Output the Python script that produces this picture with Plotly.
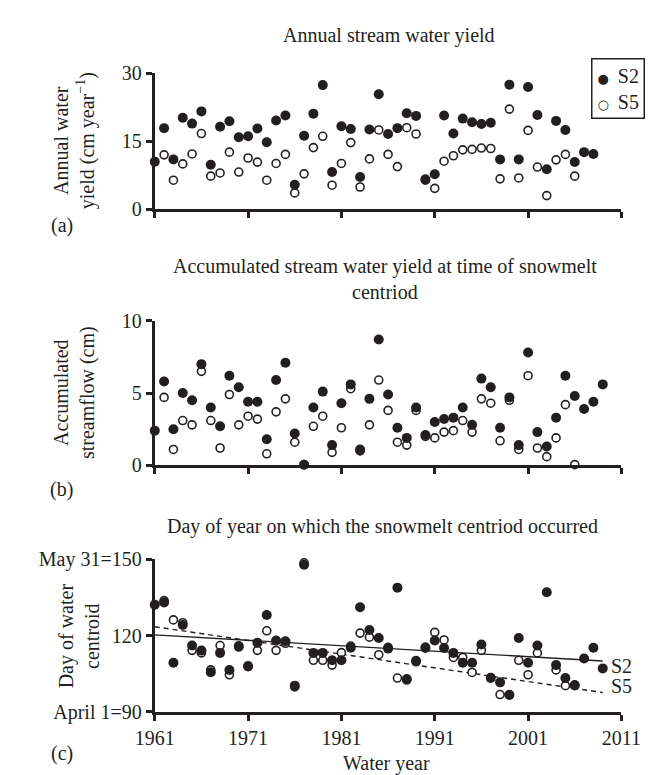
import plotly.graph_objects as go

# ---------------- data ----------------
years_a = list(range(1961, 2009))
s2_yield = [10.5, 17.9, 11.0, 20.2, 18.9, 21.6, 9.8, 18.2, 19.4, 15.9,
            16.1, 17.8, 14.8, 19.6, 20.7, 5.4, 16.2, 21.1, 27.4, 8.2,
            18.3, 17.7, 7.1, 17.6, 25.4, 16.6, 17.9, 21.2, 20.6, 6.6,
            7.7, 20.7, 16.7, 20.0, 19.2, 18.8, 19.1, 11.0, 27.5, 11.0,
            27.0, 20.8, 8.8, 19.5, 17.5, 10.4, 12.6, 12.2]
s5_yield = [None, 12.0, 6.4, 10.0, 12.2, 16.7, 7.3, 8.0, 12.6, 8.2,
            11.3, 10.4, 6.4, 10.1, 12.1, 3.6, 7.8, 13.6, 16.1, 5.3,
            10.1, 14.7, 4.9, 11.1, 17.5, 12.1, 9.4, 18.0, 16.6, 6.4,
            4.6, 10.6, 11.8, 13.1, 13.2, 13.5, 13.4, 6.7, 22.1, 6.9,
            17.4, 9.3, 3.0, 10.9, 12.1, 7.3, None, None]

years_bc = list(range(1961, 2010))
s2_accum = [2.4, 5.8, 2.5, 5.0, 4.5, 7.0, 4.0, 2.7, 6.2, 5.4,
            4.4, 4.4, 1.8, 5.9, 7.1, 2.2, 0.05, 4.0, 5.1, 1.4,
            4.3, 5.6, 1.1, 4.6, 8.7, 4.9, 2.6, 1.9, 4.0, 2.1,
            3.0, 3.2, 3.3, 4.0, 2.8, 6.0, 5.4, 2.6, 4.7, 1.4,
            7.8, 2.3, 1.3, 3.3, 6.2, 4.8, 3.9, 4.4, 5.6]
s5_accum = [None, 4.7, 1.1, 3.1, 2.8, 6.5, 3.1, 1.2, 4.9, 2.8,
            3.4, 3.2, 0.8, 3.7, 4.6, 1.6, 0.05, 2.7, 3.4, 0.9,
            2.6, 5.3, 1.0, 2.8, 5.9, 3.8, 1.6, 1.4, 3.8, 2.0,
            1.9, 2.3, 2.4, 3.1, 2.3, 4.6, 4.3, 1.7, 4.5, 1.1,
            6.2, 1.2, 0.6, 1.9, 4.2, 0.05, None, None, None]

s2_centroid = [132.2, 133.1, 109.3, 124.2, 116.1, 114.1, 105.6, 113.2, 106.5, 115.9,
               108.0, 117.2, 128.1, 118.1, 117.8, 100.3, 147.9, 113.2, 113.2, 110.3,
               110.3, 115.2, 131.2, 122.2, 119.1, 114.9, 138.9, 102.9, 110.1, 115.1,
               118.1, 115.1, 113.2, 109.3, 109.3, 116.5, 103.3, 101.6, 96.6, 119.1,
               109.3, 116.1, 137.1, 108.4, 103.3, 100.4, 111.0, 115.2, 107.1]
s5_centroid = [None, 133.8, 126.2, 125.1, 114.2, 113.2, 106.5, 116.1, 104.6, 115.5,
               107.8, 114.2, 121.9, 114.2, 117.0, 99.8, 148.7, 110.3, 110.3, 108.4,
               113.3, 115.9, 121.0, 119.4, 112.5, 115.4, 103.3, 102.5, 109.7, 115.5,
               121.3, 118.3, 111.4, 111.4, 105.5, 114.2, 103.5, 96.8, 96.8, 110.3,
               104.6, 113.2, None, 106.5, 100.3, 100.6, None, None, None]

trend_years = [1961, 2009]
s2_trend = [120.3, 110.0]
s5_trend = [123.5, 97.6]

x_ticks = [1961, 1971, 1981, 1991, 2001, 2011]
c_tickvals = [90, 120, 150]
c_ticktext = ["April 1=90", "120", "May 31=150"]

# ---------------- style ----------------
W, H = 655, 775
FONT = "Liberation Serif"
INK = "#231f20"
FS = 20

def px(x):
    return x / W

def py(y):
    return (H - y) / H

fig = go.Figure()

def add_pair(xs, s2, s5, xa, ya):
    fig.add_trace(go.Scatter(
        x=xs, y=s5, mode="markers", name="S5", xaxis=xa, yaxis=ya,
        marker=dict(symbol="circle", size=8, color="white",
                    line=dict(color=INK, width=1.6)),
        cliponaxis=False, showlegend=False))
    fig.add_trace(go.Scatter(
        x=xs, y=s2, mode="markers", name="S2", xaxis=xa, yaxis=ya,
        marker=dict(symbol="circle", size=10, color=INK,
                    line=dict(color=INK, width=0)),
        cliponaxis=False, showlegend=False))

add_pair(years_a, s2_yield, s5_yield, "x", "y")
add_pair(years_bc, s2_accum, s5_accum, "x2", "y2")

fig.add_trace(go.Scatter(x=trend_years, y=s2_trend, mode="lines", xaxis="x3", yaxis="y3",
                         line=dict(color=INK, width=1.4), showlegend=False))
fig.add_trace(go.Scatter(x=trend_years, y=s5_trend, mode="lines", xaxis="x3", yaxis="y3",
                         line=dict(color=INK, width=1.4, dash="5px,4px"), showlegend=False))
add_pair(years_bc, s2_centroid, s5_centroid, "x3", "y3")

xdom = [px(135), px(632)]
axis_common = dict(showline=True, linecolor=INK, linewidth=3, ticks="outside",
                   ticklen=6, tickwidth=3, tickcolor=INK, showgrid=False,
                   zeroline=False, tickfont=dict(family=FONT, size=FS, color=INK))

def xaxis(anchor, labels):
    d = dict(axis_common)
    d.update(domain=xdom, range=[1961, 2011], tickvals=x_ticks, anchor=anchor,
             showticklabels=labels, ticktext=[str(t) for t in x_ticks], tickmode="array")
    return d

def yaxis(anchor, dom, rng, tickvals, ticktext):
    d = dict(axis_common)
    d.update(domain=dom, range=rng, tickvals=tickvals, ticktext=ticktext,
             tickmode="array", anchor=anchor)
    return d

fig.update_layout(
    width=W, height=H,
    margin=dict(l=0, r=0, t=0, b=0),
    paper_bgcolor="white", plot_bgcolor="white",
    font=dict(family=FONT, size=FS, color=INK),
    xaxis=xaxis("y", False),
    xaxis2=xaxis("y2", False),
    xaxis3=xaxis("y3", True),
    yaxis=yaxis("x", [py(196), py(56)], [0, 30], [0, 15, 30], ["0", "15", "30"]),
    yaxis2=yaxis("x2", [py(460), py(311)], [0, 10], [0, 5, 10], ["0", "5", "10"]),
    yaxis3=yaxis("x3", [py(714), py(557)], [90, 150], c_tickvals, c_ticktext),
    showlegend=False,
)

def ann(text, x, y, **kw):
    d = dict(text=text, x=x, y=y, xref="paper", yref="paper", showarrow=False,
             xanchor="center", yanchor="middle",
             font=dict(family=FONT, size=FS, color=INK))
    d.update(kw)
    fig.add_annotation(**d)

ann("Annual stream water yield", px(385), py(17))
ann("Accumulated stream water yield at time of snowmelt<br>centriod", px(380), py(267.5))
ann("Day of year on which the snowmelt centriod occurred", px(378), py(523))
ann("Annual water<br>yield (cm year<sup>\u22121</sup>)", px(49), py(126), textangle=-90)
ann("Accumulated<br>streamflow (cm)", px(49), py(385.5), textangle=-90)
ann("Day of water<br>centroid", px(54), py(635.5), textangle=-90)
ann("(a)", px(36), py(213))
ann("(b)", px(36), py(485))
ann("(c)", px(36), py(757))
ann("Water year", px(382), py(767))
ann("S2", px(619), py(667), xanchor="left")
ann("S5", px(619), py(687), xanchor="left")

# legend box (text glyph symbols)
glyph = '<span style="font-family:DejaVu Sans;font-size:13px">{}</span>'
ann(glyph.format("\u25cf") + "\u2009 S2<br>" + glyph.format("\u25cb") + "\u2009 S5",
    px(628), py(72), align="left", bordercolor=INK, borderwidth=1.5,
    borderpad=5, bgcolor="white")

fig.write_html("out.html")
